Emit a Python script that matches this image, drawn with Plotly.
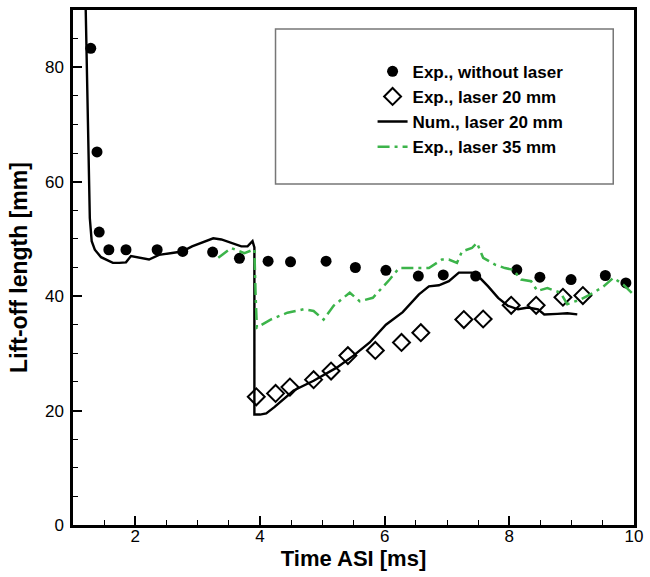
import plotly.graph_objects as go

# Exp., without laser (filled circles)
x_no = [1.285, 1.385, 1.42, 1.575, 1.85, 2.35, 2.76, 3.24, 3.67, 4.13, 4.49, 5.06, 5.53,
        6.02, 6.54, 6.94, 7.46, 8.12, 8.49, 8.99, 9.54, 9.87]
y_no = [83.3, 65.2, 51.2, 48.1, 48.1, 48.1, 47.8, 47.7, 46.6, 46.1, 46.0, 46.1, 45.0,
        44.5, 43.5, 43.7, 43.5, 44.6, 43.3, 42.9, 43.6, 42.3]

# Exp., laser 20 mm (open diamonds)
x_l20 = [3.94, 4.25, 4.48, 4.86, 5.14, 5.41, 5.85, 6.27, 6.58, 7.27, 7.58, 8.03, 8.43, 8.86, 9.18]
y_l20 = [22.4, 23.0, 24.1, 25.4, 26.9, 29.6, 30.5, 31.9, 33.6, 35.9, 36.0, 38.4, 38.4, 39.8, 40.1]

# Num., laser 20 mm (solid line)
x_num = [1.195, 1.23, 1.26, 1.27, 1.30, 1.35, 1.45, 1.53, 1.64, 1.74, 1.85, 1.93, 2.06, 2.22,
         2.38, 2.59, 2.75, 2.91, 3.06, 3.25, 3.38, 3.54, 3.70, 3.80, 3.88, 3.91, 3.91, 4.00,
         4.10, 4.23, 4.54, 4.86, 5.23, 5.50, 5.76, 6.02, 6.29, 6.55, 6.71, 6.87, 7.03, 7.19,
         7.40, 7.50, 7.66, 7.82, 7.98, 8.14, 8.30, 8.46, 8.56, 8.77, 8.93, 9.09]
y_num = [95.0, 75.7, 63.5, 53.6, 49.6, 48.1, 46.8, 46.4, 45.8, 45.8, 45.9, 47.0, 46.7, 46.4,
         47.2, 47.5, 47.8, 48.7, 49.3, 50.1, 49.9, 49.3, 48.7, 48.7, 49.6, 48.5, 19.3, 19.3,
         19.5, 20.6, 23.5, 25.2, 27.5, 29.6, 31.9, 35.0, 37.2, 40.3, 41.7, 41.9, 42.6, 44.1,
         44.1, 43.5, 41.7, 39.7, 38.3, 37.7, 38.0, 37.7, 36.8, 36.9, 37.0, 36.8]

# Exp., laser 35 mm (green dash-dot)
x_l35 = [3.33, 3.54, 3.75, 3.91, 3.93, 3.95, 4.17, 4.44, 4.70, 4.86, 5.02, 5.18, 5.44, 5.60,
         5.81, 6.08, 6.23, 6.44, 6.71, 6.92, 7.03, 7.16, 7.24, 7.40, 7.48, 7.58, 7.77, 7.93,
         8.06, 8.19, 8.35, 8.45, 8.61, 8.82, 8.93, 9.14, 9.35, 9.51, 9.67, 9.83, 9.99]
y_l35 = [46.7, 48.4, 47.5, 48.2, 40.0, 34.5, 35.9, 37.1, 37.7, 37.4, 35.9, 38.3, 40.6, 39.1,
         39.7, 42.9, 44.9, 44.9, 44.9, 46.4, 46.4, 45.8, 47.8, 48.4, 49.3, 46.7, 45.5, 44.9,
         44.6, 42.9, 42.6, 40.9, 41.4, 40.6, 38.6, 39.4, 40.6, 41.7, 43.2, 42.0, 40.3]

x_ticks = [2, 4, 6, 8, 10]
y_ticks = [0, 20, 40, 60, 80]

fig = go.Figure()
fig.add_trace(go.Scatter(x=x_no, y=y_no, mode="markers", name="Exp., without laser",
                         marker=dict(symbol="circle", size=11, color="black")))
fig.add_trace(go.Scatter(x=x_l20, y=y_l20, mode="markers", name="Exp., laser 20 mm",
                         marker=dict(symbol="diamond-open", size=13, color="black",
                                     line=dict(width=2, color="black"))))
fig.add_trace(go.Scatter(x=x_num, y=y_num, mode="lines", name="Num., laser 20 mm",
                         line=dict(color="black", width=2.4)))
fig.add_trace(go.Scatter(x=x_l35, y=y_l35, mode="lines", name="Exp., laser 35 mm",
                         line=dict(color="#3cb44a", width=2.5, dash="12px,5px,3px,5px")))

fam = "Liberation Sans, Arial, sans-serif"
tickfont = dict(family=fam, size=17, color="black")

fig.update_layout(
    width=650, height=577,
    margin=dict(l=73, r=9, t=7, b=52),
    paper_bgcolor="white", plot_bgcolor="white",
    showlegend=True,
    legend=dict(x=0.534, y=0.915, xanchor="left", yanchor="top",
                bgcolor="rgba(0,0,0,0)", borderwidth=0,
                font=dict(family=fam, size=17, color="black", weight="bold"),
                tracegroupgap=0, itemwidth=30),
    shapes=[dict(type="rect", xref="paper", yref="paper",
                 x0=0.361, x1=0.963, y0=0.662, y1=0.963,
                 line=dict(color="#777777", width=1.5), fillcolor="rgba(0,0,0,0)")],
)

fig.update_xaxes(range=[1, 10], tickvals=x_ticks, ticktext=[str(v) for v in x_ticks],
                 ticks="inside", ticklen=9, tickwidth=2, tickcolor="black",
                 minor=dict(dtick=0.5, ticks="inside", ticklen=5, tickwidth=1,
                            tickcolor="black"),
                 showline=True, linecolor="black", linewidth=2.5, mirror=True,
                 showgrid=False, zeroline=False, tickfont=tickfont, ticklabelstandoff=-6,
                 title=dict(text="Time ASI [ms]",
                            font=dict(family=fam, size=22, color="black", weight="bold"),
                            standoff=5))
fig.update_yaxes(range=[0, 90], tickvals=y_ticks, ticktext=[str(v) for v in y_ticks],
                 ticks="inside", ticklen=9, tickwidth=2, tickcolor="black",
                 minor=dict(dtick=5, ticks="inside", ticklen=5, tickwidth=1,
                            tickcolor="black"),
                 showline=True, linecolor="black", linewidth=2.5, mirror=True,
                 showgrid=False, zeroline=False, tickfont=tickfont, ticklabelstandoff=3,
                 title=dict(text="Lift-off length [mm]",
                            font=dict(family=fam, size=23, color="black", weight="bold"),
                            standoff=11))

fig.write_html("out.html")
